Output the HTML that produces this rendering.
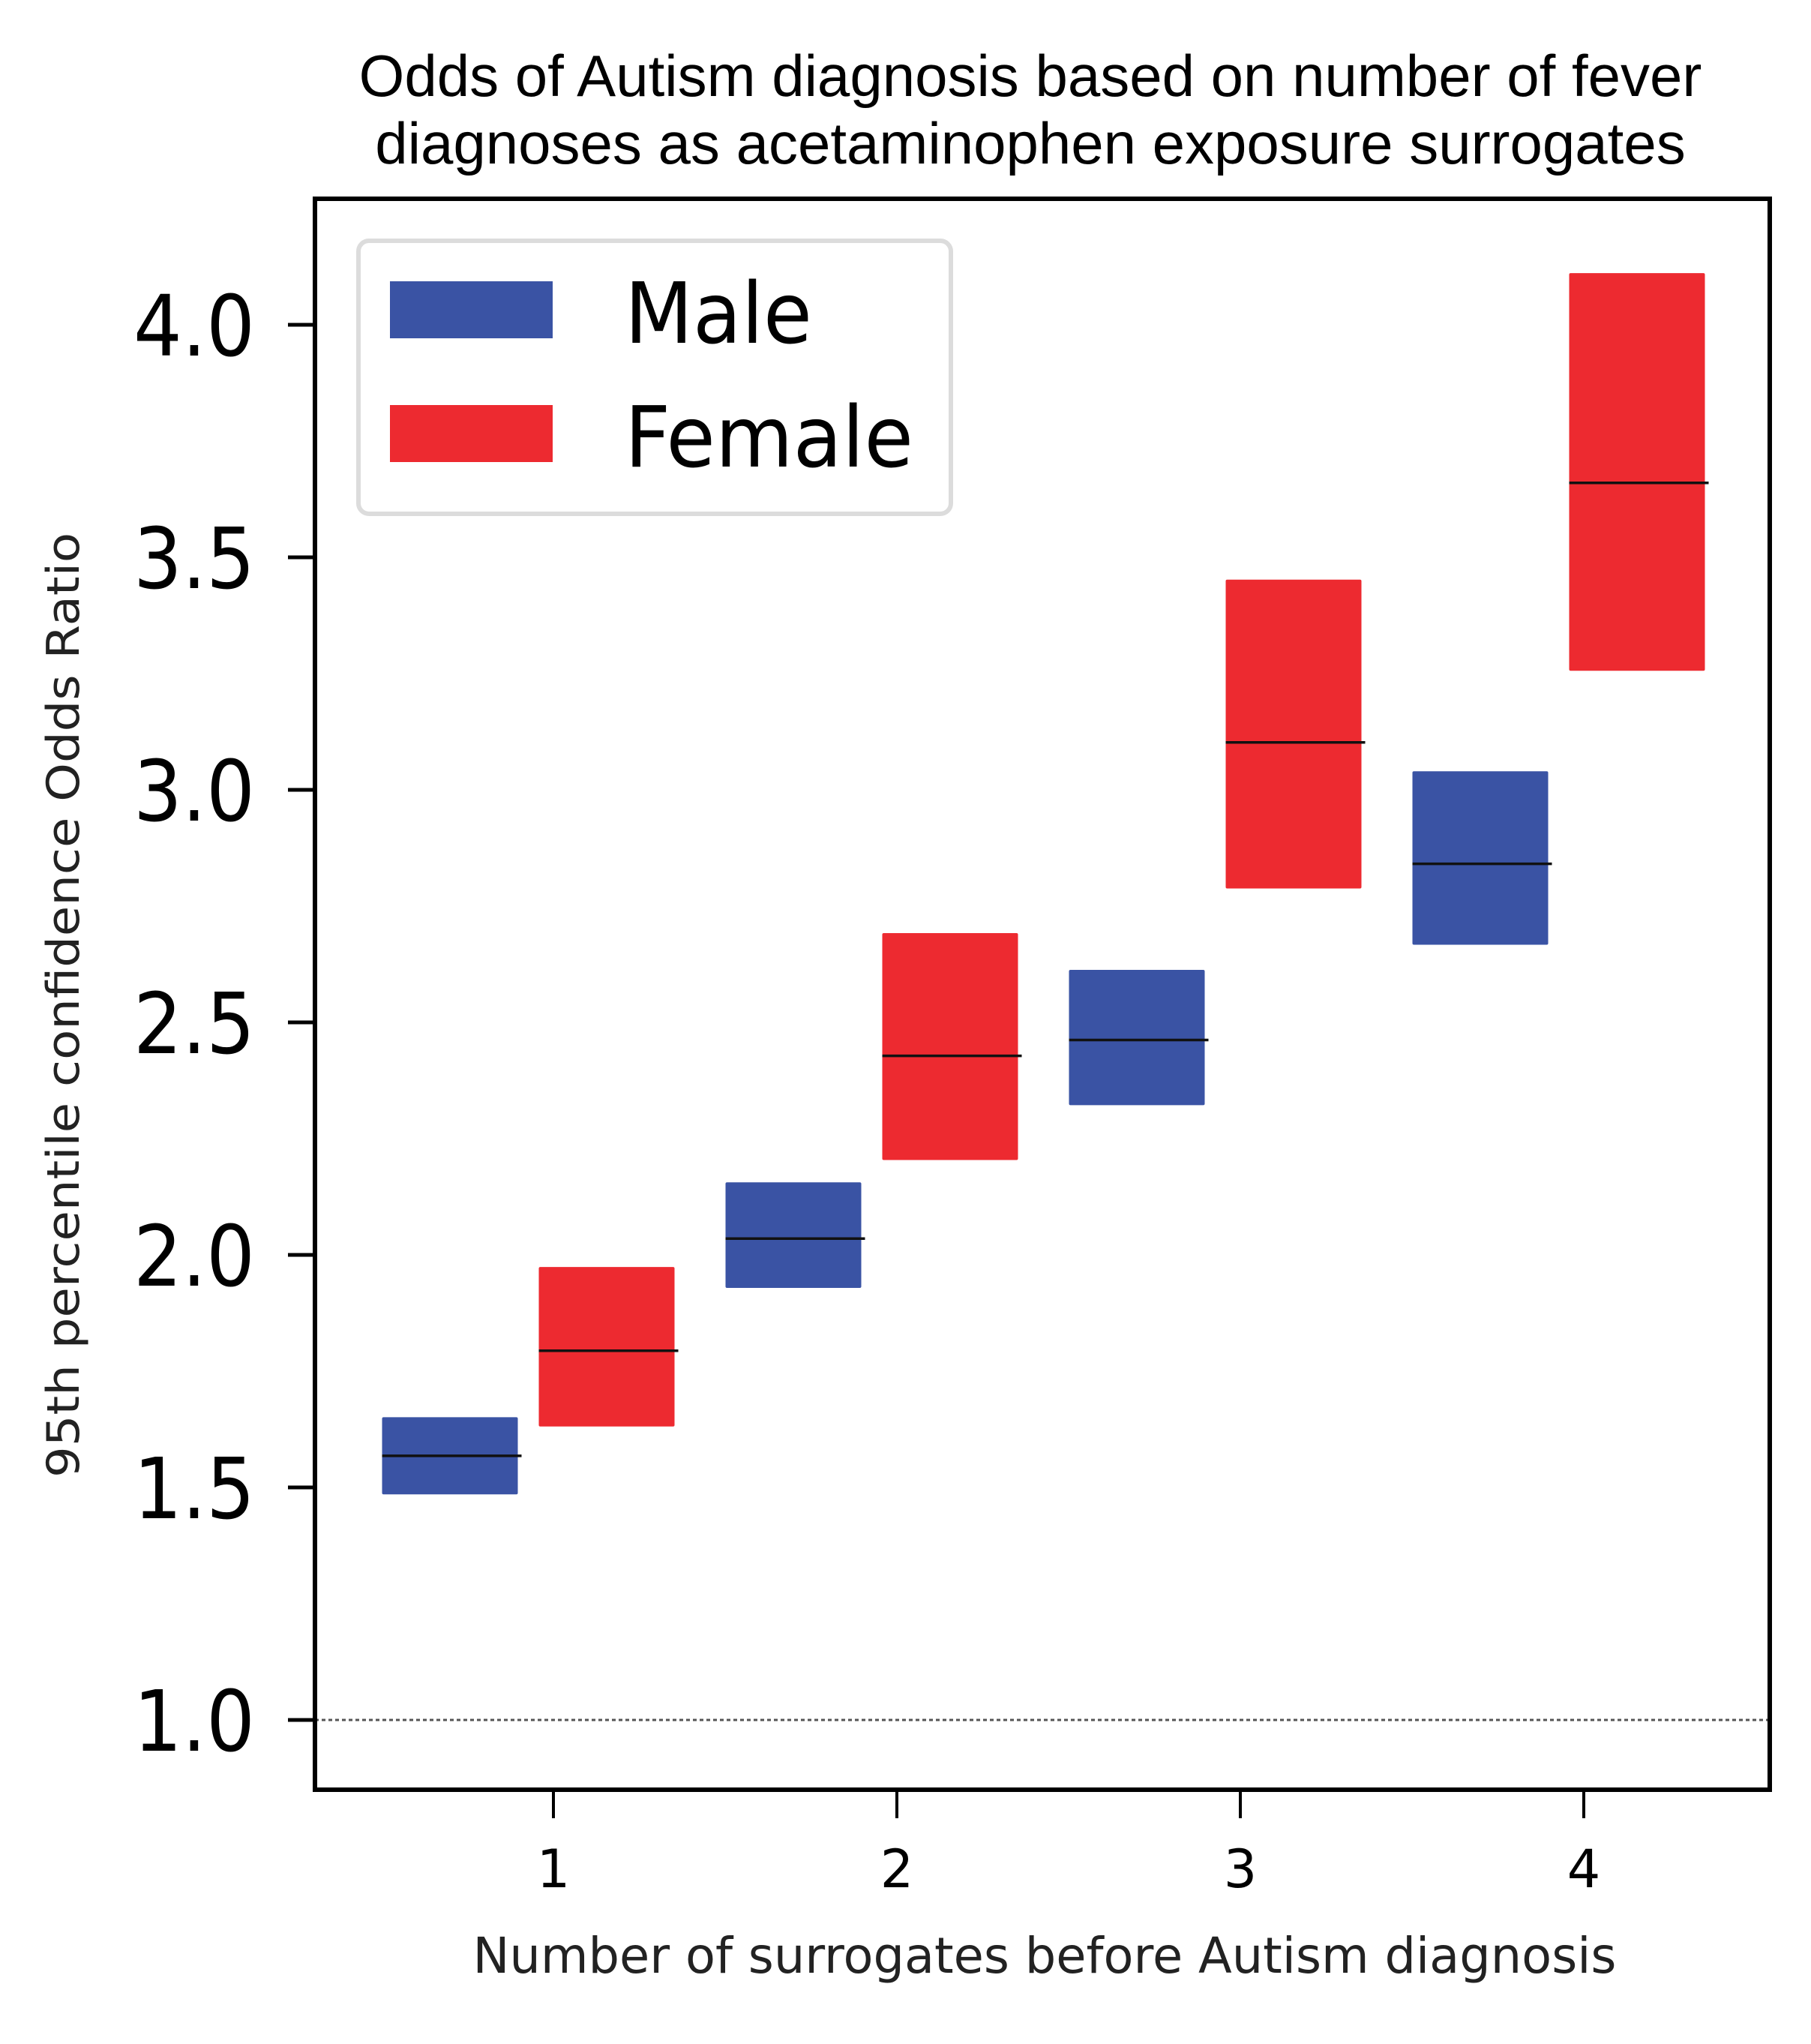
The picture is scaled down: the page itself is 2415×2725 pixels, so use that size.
<!DOCTYPE html>
<html><head><meta charset="utf-8"><style>
html,body{margin:0;padding:0;background:#fff;}
svg{display:block;}
</style></head><body>
<svg id="chart" width="2415" height="2725" viewBox="0 0 2415 2725" xmlns="http://www.w3.org/2000/svg">
<rect x="0" y="0" width="2415" height="2725" fill="#fff"/>
<text x="1374" y="128" text-anchor="middle" font-family="Liberation Sans, sans-serif" font-size="78" fill="#000">Odds of Autism diagnosis based on number of fever</text>
<text x="1374" y="218" text-anchor="middle" font-family="Liberation Sans, sans-serif" font-size="78" fill="#000">diagnoses as acetaminophen exposure surrogates</text>
<g id="marks"></g>
<g id="axes"></g>
<rect x="478" y="321" width="790" height="364" rx="14" fill="#fff" stroke="#dcdcdc" stroke-width="6"/>
<rect x="520" y="375" width="217" height="76" fill="#3a53a4"/>
<text x="833" y="457" font-family="DejaVu Sans, sans-serif" font-size="112" textLength="250" lengthAdjust="spacingAndGlyphs" fill="#000">Male</text>
<rect x="520" y="540" width="217" height="76" fill="#ed2a30"/>
<text x="833" y="622" font-family="DejaVu Sans, sans-serif" font-size="112" textLength="385" lengthAdjust="spacingAndGlyphs" fill="#000">Female</text>
<text x="1393" y="2630" text-anchor="middle" font-family="DejaVu Sans, sans-serif" font-size="66" textLength="1525" lengthAdjust="spacingAndGlyphs" fill="#222">Number of surrogates before Autism diagnosis</text>
<text transform="translate(105,1340) rotate(-90)" text-anchor="middle" font-family="DejaVu Sans, sans-serif" font-size="60" textLength="1260" lengthAdjust="spacingAndGlyphs" fill="#222">95th percentile confidence Odds Ratio</text>
</svg>
<script>
const categories = [1, 2, 3, 4];
const maleLow = [1.485, 1.929, 2.322, 2.667];
const maleMid = [1.568, 2.035, 2.462, 2.841];
const maleHigh = [1.651, 2.156, 2.613, 3.040];
const femaleLow = [1.631, 2.204, 2.788, 3.256];
const femaleMid = [1.794, 2.428, 3.102, 3.660];
const femaleHigh = [1.974, 2.692, 3.452, 4.111];
const yTicks = [1.0, 1.5, 2.0, 2.5, 3.0, 3.5, 4.0];
const yTickLabels = ["1.0", "1.5", "2.0", "2.5", "3.0", "3.5", "4.0"];
const xTickLabels = ["1", "2", "3", "4"];
const refValue = 1.0;

const NS = "http://www.w3.org/2000/svg";
const L = 420, R = 2360, T = 265, B = 2386;
function yScale(v) { return 433 + (4.0 - v) * 620; }
function xScale(c) { return 738 + (c - 1) * 458; }
const BW = 181, MALE_OFF = -138, FEMALE_OFF = 71;

function mk(tag, attrs, parent) {
  const e = document.createElementNS(NS, tag);
  for (const k in attrs) e.setAttribute(k, attrs[k]);
  parent.appendChild(e);
  return e;
}
const marks = document.getElementById('marks');
const axes = document.getElementById('axes');

const ref = mk('line', {x1: L, x2: R, y1: yScale(refValue), y2: yScale(refValue), stroke: '#555', 'stroke-width': 3, 'stroke-dasharray': '5,4'}, marks);



function drawSeries(low, mid, high, off, color, name) {
  categories.forEach((c, i) => {
    const cx = xScale(c) + off;
    const y1 = yScale(high[i]), y2 = yScale(low[i]);
    const r = mk('rect', {x: cx - BW / 2, y: y1, width: BW, height: y2 - y1, fill: color, rx: 2}, marks);
    
    
    const m = mk('line', {x1: cx - BW / 2, x2: cx + BW / 2 + 5, y1: yScale(mid[i]), y2: yScale(mid[i]), stroke: '#111', 'stroke-width': 3.5}, marks);
    
    
  });
}
drawSeries(maleLow, maleMid, maleHigh, MALE_OFF, '#3a53a4', 'male');
drawSeries(femaleLow, femaleMid, femaleHigh, FEMALE_OFF, '#ed2a30', 'female');

const frame = mk('rect', {x: L, y: T, width: R - L, height: B - T, fill: 'none', stroke: '#000', 'stroke-width': 6}, axes);



yTicks.forEach((v, i) => {
  const y = yScale(v);
  const t = mk('line', {x1: 384, x2: L, y1: y, y2: y, stroke: '#000', 'stroke-width': 5}, axes);
  
  
  const tx = mk('text', {x: 340, y: y + 41, 'text-anchor': 'end', 'font-family': 'DejaVu Sans, sans-serif', 'font-size': 112, textLength: 162, lengthAdjust: 'spacingAndGlyphs', fill: '#000'}, axes);
  tx.textContent = yTickLabels[i];
  
  
});

categories.forEach((c, i) => {
  const x = xScale(c);
  const t = mk('line', {x1: x, x2: x, y1: B, y2: B + 38, stroke: '#000', 'stroke-width': 4}, axes);
  
  
  const tx = mk('text', {x: x, y: 2516, 'text-anchor': 'middle', 'font-family': 'DejaVu Sans, sans-serif', 'font-size': 70, fill: '#000'}, axes);
  tx.textContent = xTickLabels[i];
  
  
});
</script>
</body></html>
